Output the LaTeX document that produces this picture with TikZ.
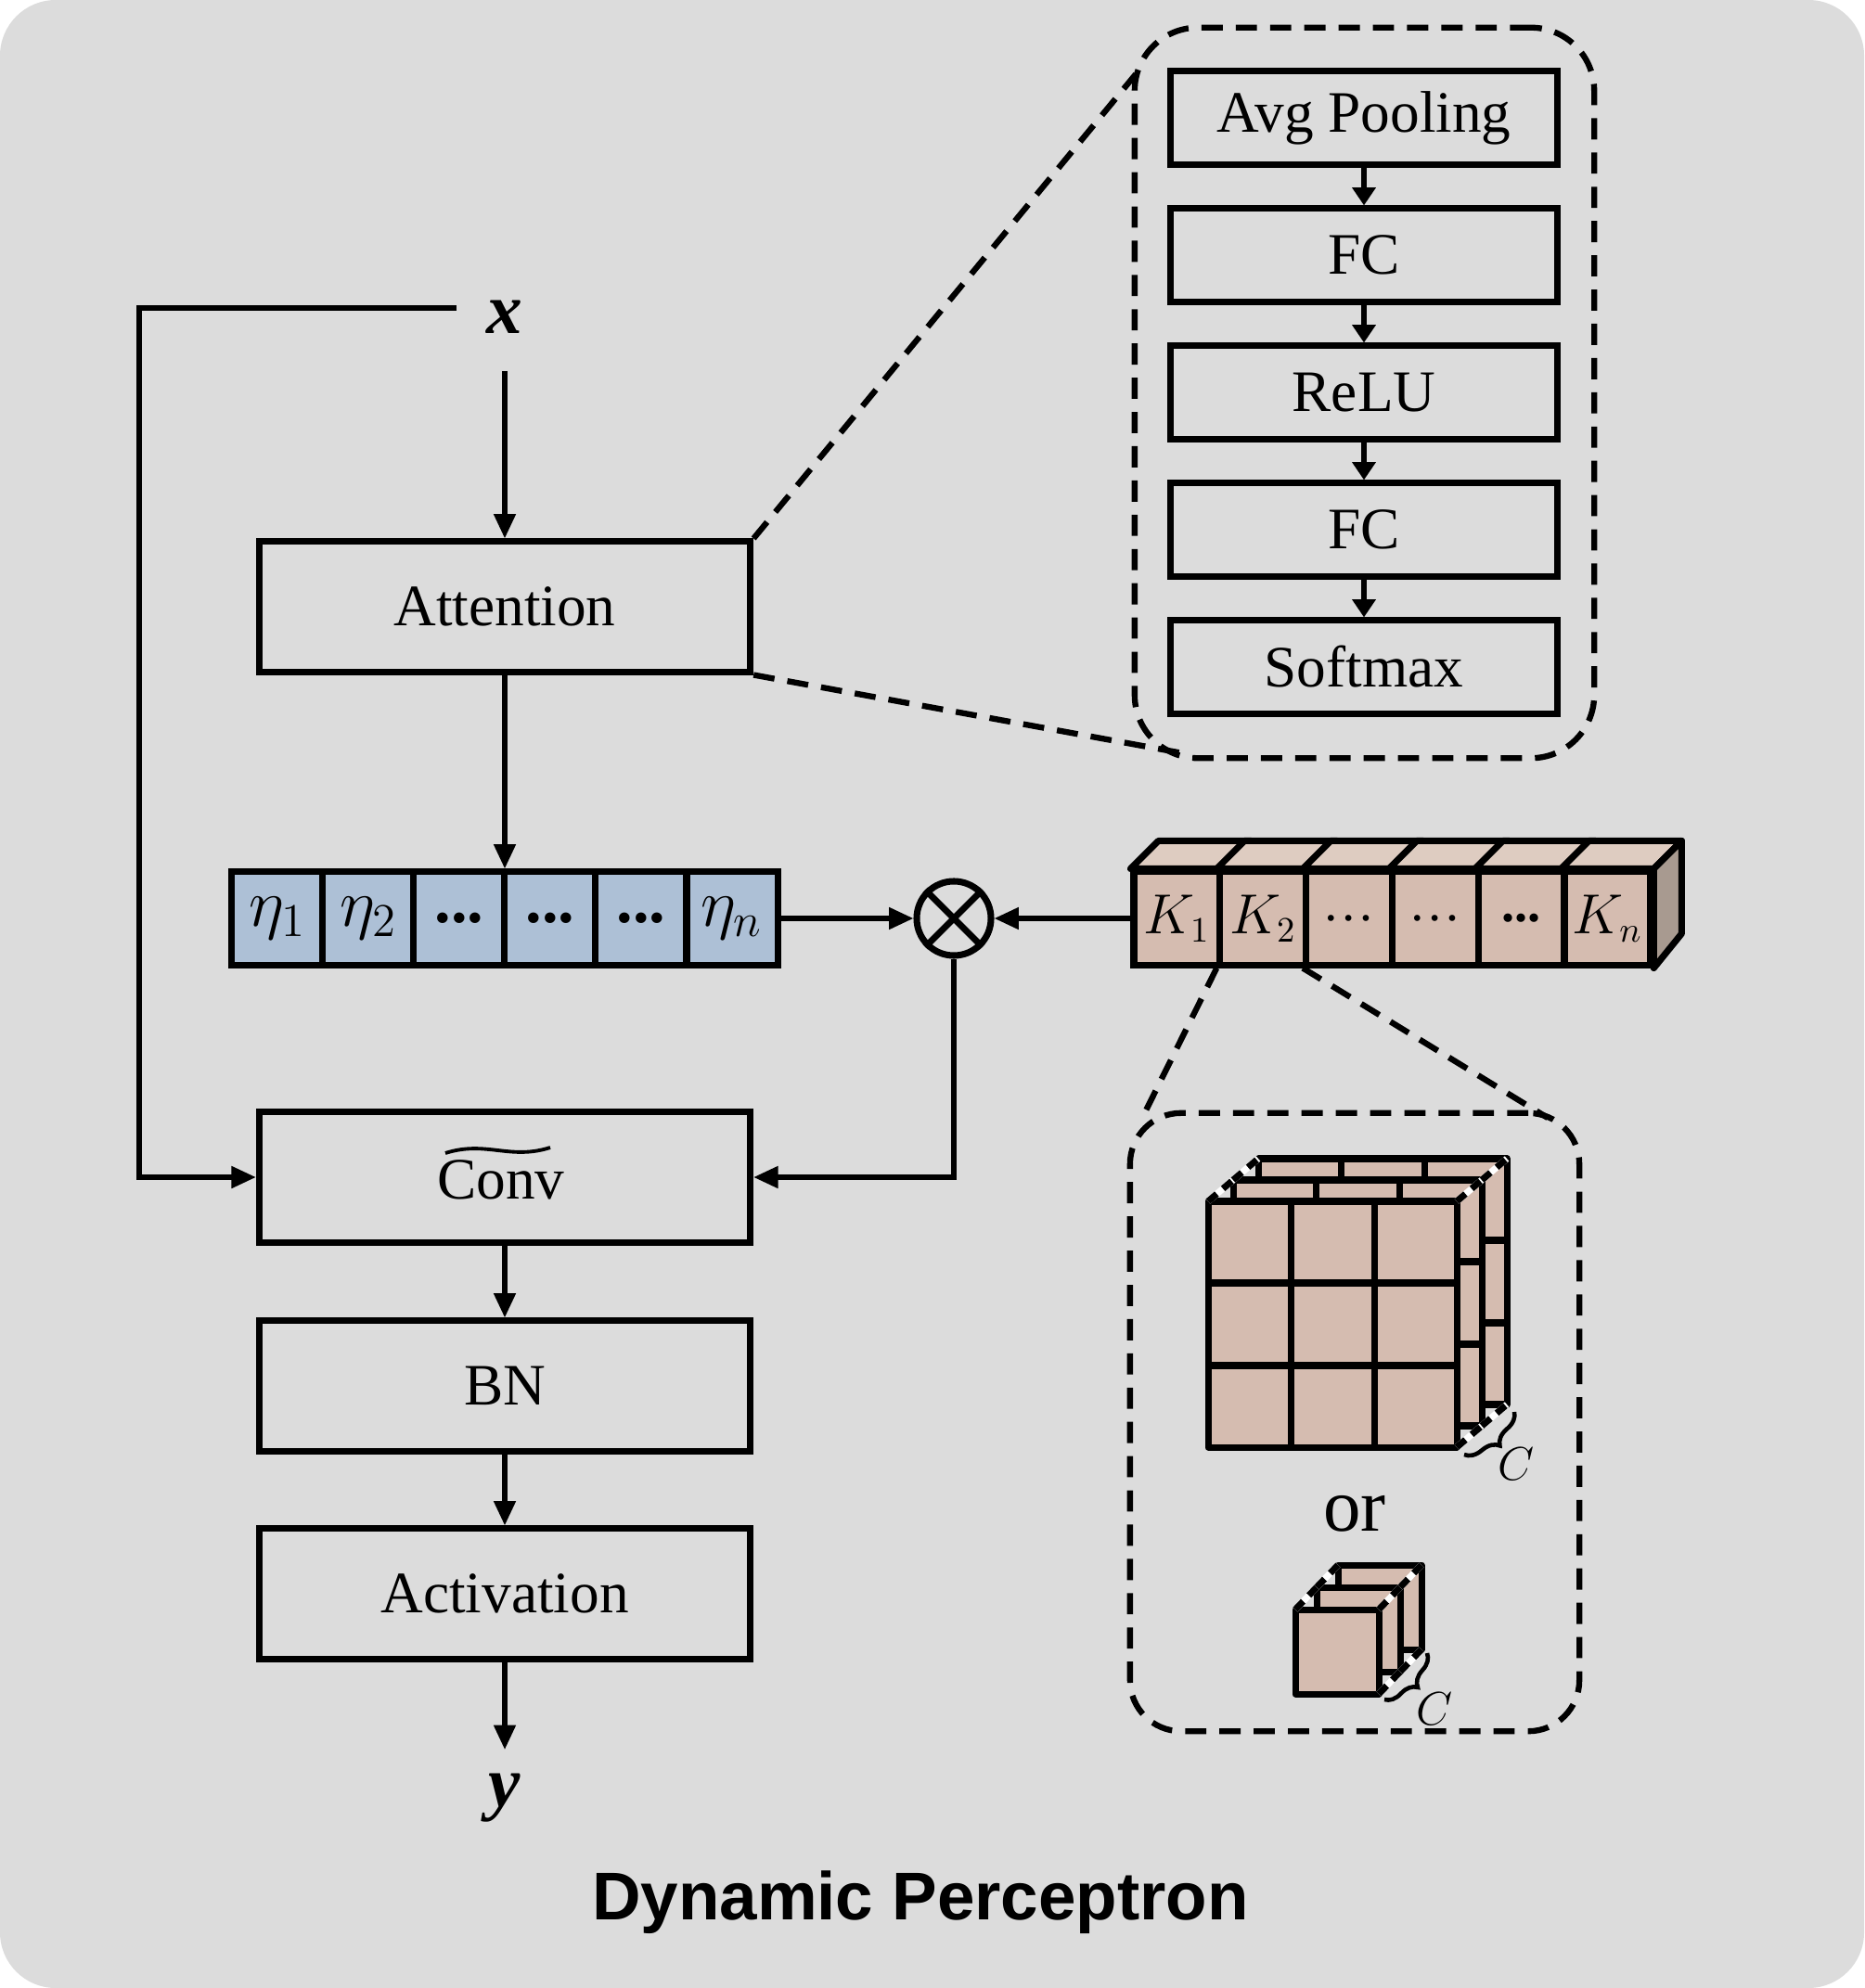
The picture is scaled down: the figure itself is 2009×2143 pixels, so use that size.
\documentclass[tikz,border=0pt]{standalone}
\usepackage{fontspec}
\setmainfont{Liberation Serif}
\newfontfamily\titlefont{Liberation Sans}
\usetikzlibrary{arrows.meta,calc,decorations.pathreplacing,shapes.geometric}
\definecolor{bgc}{RGB}{220,220,220}
\definecolor{etafill}{RGB}{173,192,214}
\definecolor{kfront}{RGB}{213,188,176}
\definecolor{ktop}{RGB}{222,204,193}
\definecolor{kside}{RGB}{168,154,144}
\begin{document}
\begin{tikzpicture}[x=0.01cm,y=-0.01cm,
  box/.style={draw,line width=2pt,minimum width=5.29cm,minimum height=1.40cm,inner sep=0pt,font=\fontsize{18}{20}\selectfont},
  dbox/.style={draw,line width=2pt,minimum width=4.17cm,minimum height=1.0cm,inner sep=0pt,font=\fontsize{18}{20}\selectfont},
  conn/.style={line width=1.5pt,-{Triangle[length=7.5pt,width=6.5pt]}},
  sconn/.style={line width=1.5pt,-{Triangle[length=5.5pt,width=7pt]}},
  dline/.style={line width=1.8pt,dash pattern=on 6.5pt off 4pt},
  ecell/.style={draw,fill=etafill,line width=2pt,minimum width=0.98cm,minimum height=1.0cm,inner sep=0pt,font=\fontsize{20}{22}\selectfont},
  kcell/.style={draw,fill=kfront,line width=2pt,minimum width=0.928cm,minimum height=1.0cm,inner sep=0pt,font=\fontsize{16}{18}\selectfont},
  face/.style={line width=2pt,line join=round},
  depth/.style={line width=2pt,dash pattern=on 3.5pt off 2.5pt},
  under/.style={white,line width=2pt},
  brc/.style={line width=1.3pt,decorate,decoration={brace,amplitude=5pt}},
  lbl/.style={font=\fontsize{22}{24}\selectfont\bfseries\itshape}
]
\useasboundingbox (0,0) rectangle (2009,2143);
\fill[white] (0,0) rectangle (2009,2143);
\fill[bgc,rounded corners=0.6cm] (0,0) rectangle (2009,2143);

% left column
\node[lbl] (x) at (544,342) {x};
\coordinate (xs) at (544,400);
\coordinate (xl) at (492,332);
\coordinate (sk) at (150,332);
\node[box] (att) at (544,654) {Attention};
\node[box] (conv) at (544,1269) {};
\node[font=\fontsize{18}{20}\selectfont] (convt) at (540,1272) {Conv};
\draw[line width=1.1pt] ($(conv.center)+(-64,-26)$) .. controls ($(conv.center)+(-20,-40)$) and ($(conv.center)+(5,-18)$) .. ($(conv.center)+(49,-32)$);
\node[box] (bn) at (544,1494) {BN};
\node[box] (act) at (544,1718) {Activation};
\coordinate (ye) at (544,1886);
\node[lbl] (y) at (544,1938) {y};

% eta row
\node[ecell] (e1) at (299,990) {$\eta_1$};
\node[ecell] (e2) at (397,990) {$\eta_2$};
\node[ecell] (e3) at (495,990) {\textbf{...}};
\node[ecell] (e4) at (593,990) {\textbf{...}};
\node[ecell] (e5) at (691,990) {\textbf{...}};
\node[ecell] (e6) at (789,990) {$\eta_n$};

% otimes
\node[circle,draw,line width=2pt,minimum size=0.8cm,inner sep=0pt] (ot) at (1028,990) {};
\draw[line width=2pt] (ot.north west) -- (ot.south east) (ot.north east) -- (ot.south west);

% K row
\node[kcell] (k1) at (1268.4,990) {$K_1$};
\node[kcell] (k2) at (1361.2,990) {$K_2$};
\node[kcell] (k3) at (1454,990) {…};
\node[kcell] (k4) at (1546.8,990) {…};
\node[kcell] (k5) at (1639.6,990) {\textbf{...}};
\node[kcell] (k6) at (1732.4,990) {$K_n$};
\foreach \k in {k1,k2,k3,k4,k5,k6}{
  \filldraw[face,fill=ktop] (\k.north west) -- ++(30,-30) -- ($(\k.north east)+(30,-30)$) -- (\k.north east) -- cycle;
}
\filldraw[face,fill=kside] (k6.north east) -- ++(30,-30) -- ++(0,100) -- (k6.south east) -- cycle;

% connectors
\draw[conn] (xs) -- (att.north);
\draw[conn] (xl) -- (sk) |- (conv.west);
\draw[conn] (att.south) -- (att.south |- e3.north);
\draw[conn] (e6.east) -- (ot.west);
\draw[conn] (k1.west) -- (ot.east);
\draw[conn] (ot.south) |- (conv.east);
\draw[conn] (conv.south) -- (bn.north);
\draw[conn] (bn.south) -- (act.north);
\draw[conn] (act.south) -- (ye);

% attention detail
\node[draw,dline,rounded corners=0.68cm,minimum width=4.95cm,minimum height=7.87cm] (attdet) at (1470.5,423.5) {};
\coordinate (ad1) at (1224,80);
\coordinate (ad2) at (1275,812);
\draw[dline] (att.north east) -- (ad1);
\draw[dline] (att.south east) -- (ad2);
\node[dbox] (p1) at (1470,127) {Avg Pooling};
\node[dbox] (p2) at (1470,275) {FC};
\node[dbox] (p3) at (1470,423) {ReLU};
\node[dbox] (p4) at (1470,571) {FC};
\node[dbox] (p5) at (1470,719) {Softmax};
\draw[sconn] (p1.south) -- (p2.north);
\draw[sconn] (p2.south) -- (p3.north);
\draw[sconn] (p3.south) -- (p4.north);
\draw[sconn] (p4.south) -- (p5.north);

% kernel detail
\node[draw,dline,rounded corners=0.55cm,minimum width=4.84cm,minimum height=6.66cm] (kdet) at (1460,1533) {};
\coordinate (kd1) at (1232,1203);
\coordinate (kd2) at (1668,1205);
\draw[dline] (k2.south west) -- (kd1);
\draw[dline] (k3.south west) -- (kd2);

% big cube
\foreach \l in {2,1,0}{
  \begin{scope}[shift={({27*\l},{-23*\l})}]
    \filldraw[face,fill=kfront] (1302,1295) rectangle (1570,1560);
    \draw[line width=2pt] (1391,1295) -- (1391,1560) (1481,1295) -- (1481,1560)
      (1302,1383) -- (1570,1383) (1302,1472) -- (1570,1472);
  \end{scope}
}
\foreach \a/\b in {{1302,1295}/{1329,1272},{1329,1272}/{1356,1249},
                   {1570,1295}/{1597,1272},{1597,1272}/{1624,1249},
                   {1570,1560}/{1597,1537},{1597,1537}/{1624,1514}}{
  \draw[under] (\a) -- (\b);
  \draw[depth] (\a) -- (\b);
}
\draw[brc] (1632,1522) -- (1578,1568);
\node[font=\fontsize{15}{17}\selectfont] (c1) at (1634,1578) {$C$};

\node[font=\fontsize{23}{25}\selectfont] (or) at (1460,1632) {or};

% small cube
\foreach \l in {2,1,0}{
  \begin{scope}[shift={({23*\l},{-24*\l})}]
    \filldraw[face,fill=kfront] (1396,1735) rectangle (1486,1826);
  \end{scope}
}
\foreach \a/\b in {{1396,1735}/{1419,1711},{1419,1711}/{1442,1687},
                   {1486,1735}/{1509,1711},{1509,1711}/{1532,1687},
                   {1486,1826}/{1509,1802},{1509,1802}/{1532,1778}}{
  \draw[under] (\a) -- (\b);
  \draw[depth] (\a) -- (\b);
}
\draw[brc] (1538,1782) -- (1492,1832);
\node[font=\fontsize{15}{17}\selectfont] (c2) at (1546,1842) {$C$};

% title
\node[font=\titlefont\bfseries\fontsize{20.7}{24}\selectfont] (title) at (992,2051) {Dynamic Perceptron};
\end{tikzpicture}
\end{document}
